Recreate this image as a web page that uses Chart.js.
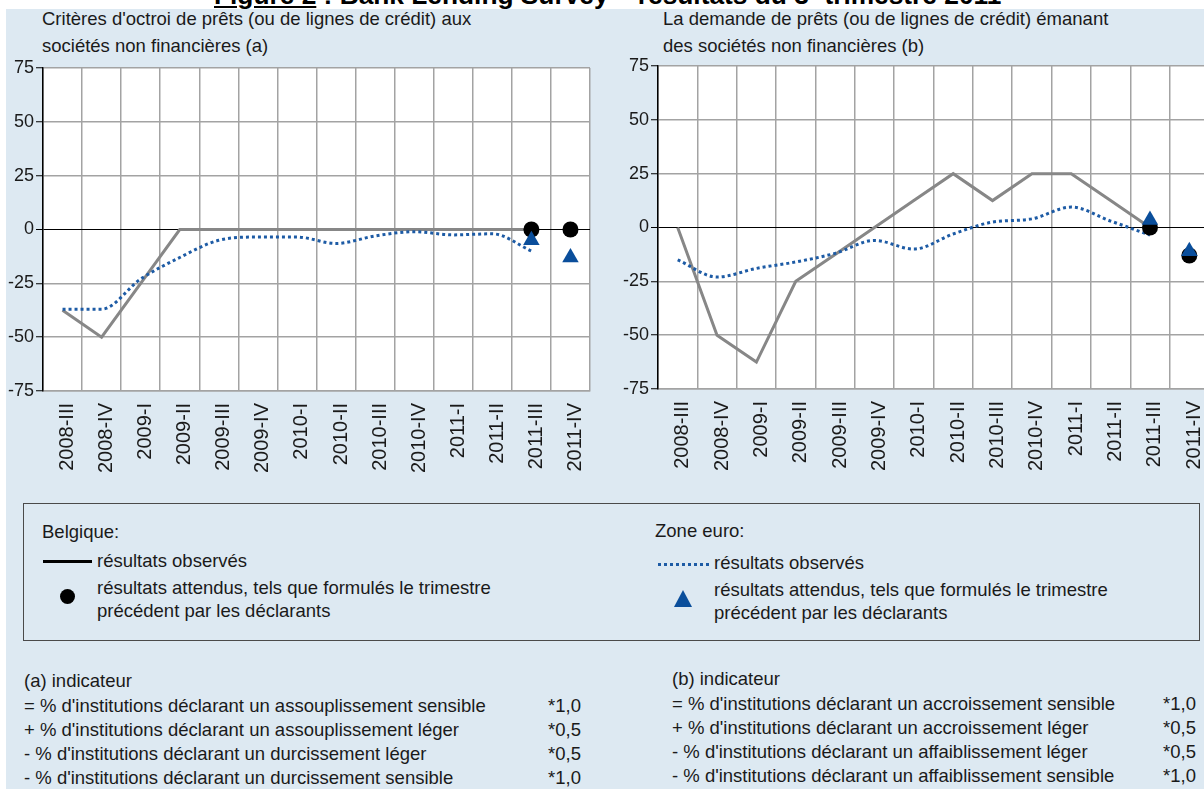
<!DOCTYPE html>
<html lang="fr">
<head>
<meta charset="utf-8">
<script src="https://cdn.jsdelivr.net/npm/chart.js@4.4.1/dist/chart.umd.min.js"></script>
<style>
  html, body { margin: 0; padding: 0; }
  body { width: 1204px; height: 789px; overflow: hidden; position: relative; background: #fff;
         font-family: "Liberation Sans", Arial, sans-serif; color: #1a1a1a; }
  .panel { position: absolute; background: #dde9f2; }
  .t { position: absolute; white-space: nowrap; font-size: 18.5px; line-height: 24px; }
  canvas { position: absolute; top: 0; }
  .heading { position: absolute; left: 214px; top: -20px; font-size: 26.3px; line-height: 30px; font-weight: bold; white-space: nowrap; color: #000; }
  .heading u { text-underline-offset: 2px; }
  .heading sup { font-size: 15px; line-height: 0; }
  .legendbox { position: absolute; left: 23px; top: 503px; width: 1177px; height: 138px; border: 1px solid #4a4a4a; box-sizing: border-box; }
  .mk { position: absolute; }
</style>
</head>
<body>
<div class="heading"><u>Figure 2</u> : Bank Lending Survey – résultats du 3<sup>e</sup> trimestre 2011</div>
<div class="panel" style="left:6px; top:9px; width:1198px; height:780px;"></div>

<div class="t" style="left:42px; top:7px;">Critères d'octroi de prêts (ou de lignes de crédit) aux</div>
<div class="t" style="left:42px; top:34px;">sociétés non financières (a)</div>
<div class="t" style="left:663px; top:7px;">La demande de prêts (ou de lignes de crédit) émanant</div>
<div class="t" style="left:663px; top:34px;">des sociétés non financières (b)</div>

<canvas id="chartA" width="600" height="480" style="left:0px;"></canvas>
<canvas id="chartB" width="620" height="480" style="left:600px;"></canvas>

<div class="legendbox"></div>
<div class="t" style="left:42px; top:520px;">Belgique:</div>
<div class="mk" style="left:43px; top:560px; width:49px; height:3px; background:#000;"></div>
<div class="t" style="left:97px; top:549px;">résultats observés</div>
<div class="mk" style="left:60px; top:589px; width:15px; height:15px; border-radius:50%; background:#000;"></div>
<div class="t" style="left:97px; top:576px;">résultats attendus, tels que formulés le trimestre</div>
<div class="t" style="left:97px; top:599px;">précédent par les déclarants</div>

<div class="t" style="left:655px; top:519px;">Zone euro:</div>
<div class="mk" style="left:658px; top:563px; width:51px; height:3px; background:repeating-linear-gradient(90deg, #1d5ba5 0 3px, transparent 3px 6px);"></div>
<div class="t" style="left:714px; top:551px;">résultats observés</div>
<div class="mk" style="left:674px; top:590px; width:0; height:0; border-left:9px solid transparent; border-right:9px solid transparent; border-bottom:17px solid #0a4e9b;"></div>
<div class="t" style="left:714px; top:578px;">résultats attendus, tels que formulés le trimestre</div>
<div class="t" style="left:714px; top:601px;">précédent par les déclarants</div>

<div class="t" style="left:24px; top:669px;">(a) indicateur</div>
<div class="t" style="left:24px; top:694px;">= % d'institutions déclarant un assouplissement sensible</div>
<div class="t" style="left:24px; top:718px;">+ % d'institutions déclarant un assouplissement léger</div>
<div class="t" style="left:24px; top:742px;">- % d'institutions déclarant un durcissement léger</div>
<div class="t" style="left:24px; top:766px;">- % d'institutions déclarant un durcissement sensible</div>
<div class="t" style="left:548px; top:694px;">*1,0</div>
<div class="t" style="left:548px; top:718px;">*0,5</div>
<div class="t" style="left:548px; top:742px;">*0,5</div>
<div class="t" style="left:548px; top:766px;">*1,0</div>

<div class="t" style="left:672px; top:667px;">(b) indicateur</div>
<div class="t" style="left:672px; top:692px;">= % d'institutions déclarant un accroissement sensible</div>
<div class="t" style="left:672px; top:716px;">+ % d'institutions déclarant un accroissement léger</div>
<div class="t" style="left:672px; top:740px;">- % d'institutions déclarant un affaiblissement léger</div>
<div class="t" style="left:672px; top:764px;">- % d'institutions déclarant un affaiblissement sensible</div>
<div class="t" style="left:1163px; top:692px;">*1,0</div>
<div class="t" style="left:1163px; top:716px;">*0,5</div>
<div class="t" style="left:1163px; top:740px;">*0,5</div>
<div class="t" style="left:1163px; top:764px;">*1,0</div>

<script>
// quarters on the x axis
const quarters = ["2008-III", "2008-IV", "2009-I", "2009-II", "2009-III", "2009-IV", "2010-I",
                  "2010-II", "2010-III", "2010-IV", "2011-I", "2011-II", "2011-III", "2011-IV"];
const yTicks = [-75, -50, -25, 0, 25, 50, 75];

// (a) critères d'octroi
const critBelgiqueObs = [-37.5, -50, -25, 0, 0, 0, 0, 0, 0, 0, 0, 0, 0, null];
const critBelgiqueAtt = [null, null, null, null, null, null, null, null, null, null, null, null, 0, 0];
const critEuroObs = [-37, -37, -23, -13, -5, -3.5, -3.5, -6.5, -3, -1, -2.5, -2, -10, null];
const critEuroAtt = [null, null, null, null, null, null, null, null, null, null, null, null, -5, -13];

// (b) demande
const demBelgiqueObs = [0, -50, -62.5, -25, -12.5, 0, 12.5, 25, 12.5, 25, 25, 12.5, 0, null];
const demBelgiqueAtt = [null, null, null, null, null, null, null, null, null, null, null, null, 0, -13];
const demEuroObs = [-15, -23, -19, -16, -12, -6, -10, -3, 2.5, 4, 9.5, 3, -3.5, null];
const demEuroAtt = [null, null, null, null, null, null, null, null, null, null, null, null, 3.5, -11];

const FONT = "'Liberation Sans', Arial, sans-serif";
const GRID = "#a3a3a3";

const plotBg = {
    id: "plotBg",
    beforeDraw(chart) {
        const { ctx, chartArea: a } = chart;
        ctx.save();
        ctx.fillStyle = "#fff";
        ctx.fillRect(a.left, a.top, a.right - a.left, a.bottom - a.top);
        ctx.restore();
    }
};

function makeChart(id, belObs, belAtt, euroObs, euroAtt, box) {
    return new Chart(document.getElementById(id), {
        type: "line",
        data: {
            labels: quarters,
            datasets: [
                { data: belObs, borderColor: "#878787", borderWidth: 3, pointRadius: 0, tension: 0, order: 4 },
                { data: euroObs, borderColor: "#1d5ba5", borderWidth: 3, borderDash: [3, 3], borderCapStyle: "butt",
                  pointRadius: 0, cubicInterpolationMode: "monotone", order: 3 },
                { data: belAtt, showLine: false, pointStyle: "circle", pointRadius: 8,
                  pointBackgroundColor: "#000", pointBorderWidth: 0, order: 2 },
                { data: euroAtt, showLine: false, pointStyle: "triangle", pointRadius: 9.5,
                  pointBackgroundColor: "#0a4e9b", pointBorderWidth: 0, order: 1 }
            ]
        },
        options: {
            responsive: false,
            animation: false,
            devicePixelRatio: 1,
            events: [],
            layout: { padding: box.padding, autoPadding: false },
            plugins: { legend: { display: false }, tooltip: { enabled: false } },
            scales: {
                x: {
                    offset: true,
                    // invisible tick marks give the label gap without extra side padding
                    grid: { offset: true, color: GRID, lineWidth: 1.5, drawTicks: true,
                            tickLength: 12, tickColor: "rgba(0,0,0,0)" },
                    border: { color: GRID, width: 1.5 },
                    ticks: { autoSkip: false, minRotation: 90, maxRotation: 90, padding: 0, labelOffset: 5,
                             color: "#1a1a1a", font: { family: FONT, size: 20 } },
                    afterFit: s => { s.height = box.xHeight; }
                },
                y: {
                    min: -75,
                    max: 75,
                    afterBuildTicks: s => { s.ticks = yTicks.map(v => ({ value: v })); },
                    grid: {
                        color: c => (c.tick && c.tick.value === 0) ? "#000" : GRID,
                        lineWidth: c => (c.tick && c.tick.value === 0) ? 1 : 1.5,
                        tickColor: "#000", tickLength: 7, tickWidth: 1
                    },
                    border: { color: "#000", width: 1.5 },
                    ticks: { padding: 2, color: "#1a1a1a", font: { family: FONT, size: 18 } },
                    afterFit: s => { s.width = box.yWidth; }
                }
            }
        },
        plugins: [plotBg]
    });
}

makeChart("chartA", critBelgiqueObs, critBelgiqueAtt, critEuroObs, critEuroAtt,
    { padding: { top: 68, right: 10, left: 0, bottom: 0 }, yWidth: 43, xHeight: 89 });
makeChart("chartB", demBelgiqueObs, demBelgiqueAtt, demEuroObs, demEuroAtt,
    { padding: { top: 66, right: 11, left: 0, bottom: 0 }, yWidth: 58, xHeight: 91 });
</script>
</body>
</html>
